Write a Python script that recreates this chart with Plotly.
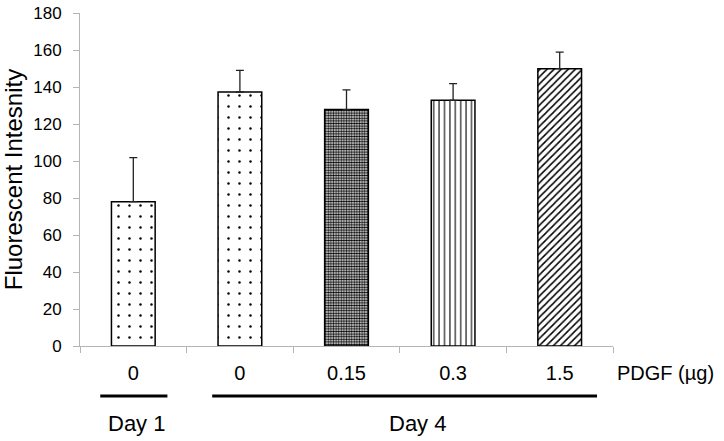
import plotly.graph_objects as go

# ---- data ----
categories = ["0", "0", "0.15", "0.3", "1.5"]
means = [78.0, 137.3, 127.8, 132.8, 149.9]
err_plus = [23.8, 11.7, 10.6, 9.0, 8.9]
y_tickvals = [0, 20, 40, 60, 80, 100, 120, 140, 160, 180]
group_labels = ["Day 1", "Day 4"]
x_unit_label = "PDGF (µg)"
y_title = "Fluorescent Intesnity"

# ---- styles ----
FONT = "Liberation Sans, Arial, sans-serif"
pattern_shapes = [".", ".", ".", "|", "/"]
pattern_sizes = [11, 11, 2.6, 5.4, 5]
pattern_solid = [0.04, 0.04, 0.6, 0.2, 0.3]

xpos = list(range(len(categories)))

fig = go.Figure()
fig.add_trace(go.Bar(
    x=xpos, y=means, width=0.41,
    marker=dict(
        color="white",
        line=dict(color="black", width=1.5),
        pattern=dict(shape=pattern_shapes, size=pattern_sizes, solidity=pattern_solid,
                     fgcolor="black", bgcolor="white", fillmode="replace"),
    ),
    error_y=dict(type="data", symmetric=False, array=err_plus,
                 arrayminus=[0] * len(means), color="#222", thickness=1.3, width=4),
    showlegend=False,
    hoverinfo="skip",
))

axis_grey = "#b5b5b5"
n = len(categories)
fig.update_layout(
    template="none",
    width=724, height=441,
    margin=dict(l=80, r=111, t=13, b=95, autoexpand=False),
    plot_bgcolor="white", paper_bgcolor="white",
    font=dict(family=FONT, color="black"),
    bargap=0,
    xaxis=dict(
        automargin=False,
        range=[-0.5, n - 0.5],
        tickmode="array", tickvals=xpos, ticktext=categories,
        ticks="", tickfont=dict(size=20), ticklabelstandoff=9,
        showline=True, linecolor=axis_grey, linewidth=1,
        showgrid=False, zeroline=False,
        minor=dict(tickmode="array", tickvals=[i - 0.5 for i in range(n + 1)],
                   ticks="outside", ticklen=6, tickcolor=axis_grey, tickwidth=1,
                   showgrid=False),
    ),
    yaxis=dict(
        automargin=False,
        range=[0, 180], tickmode="array", tickvals=y_tickvals,
        ticks="outside", ticklen=6, tickcolor=axis_grey, tickwidth=1,
        tickfont=dict(size=17), ticklabelstandoff=8,
        showline=True, linecolor=axis_grey, linewidth=1,
        showgrid=False, zeroline=False,
        title=dict(text=y_title, font=dict(size=24), standoff=10),
    ),
)

# unit label to the right of the tick labels
fig.add_annotation(text=x_unit_label, xref="paper", yref="paper", x=1, y=0,
                   xanchor="left", yanchor="middle", xshift=2, yshift=-27,
                   showarrow=False, font=dict(size=20))

# group lines and labels
spans = [(-0.31, 0.32), (0.74, 4.35)]
label_x = [0.03, 2.67]
for lab, (a, b), lx in zip(group_labels, spans, label_x):
    fig.add_shape(type="line", xref="x", yref="paper", x0=a, x1=b,
                  y0=-50 / 333, y1=-50 / 333, line=dict(color="black", width=3))
    fig.add_annotation(text=lab, xref="x", yref="paper", x=lx, y=-77 / 333,
                       xanchor="center", yanchor="middle", showarrow=False,
                       font=dict(size=22))

fig.write_html("out.html",
               config={"displayModeBar": False, "staticPlot": True},
               post_script="document.body.style.margin='0';document.body.style.overflow='hidden';")
